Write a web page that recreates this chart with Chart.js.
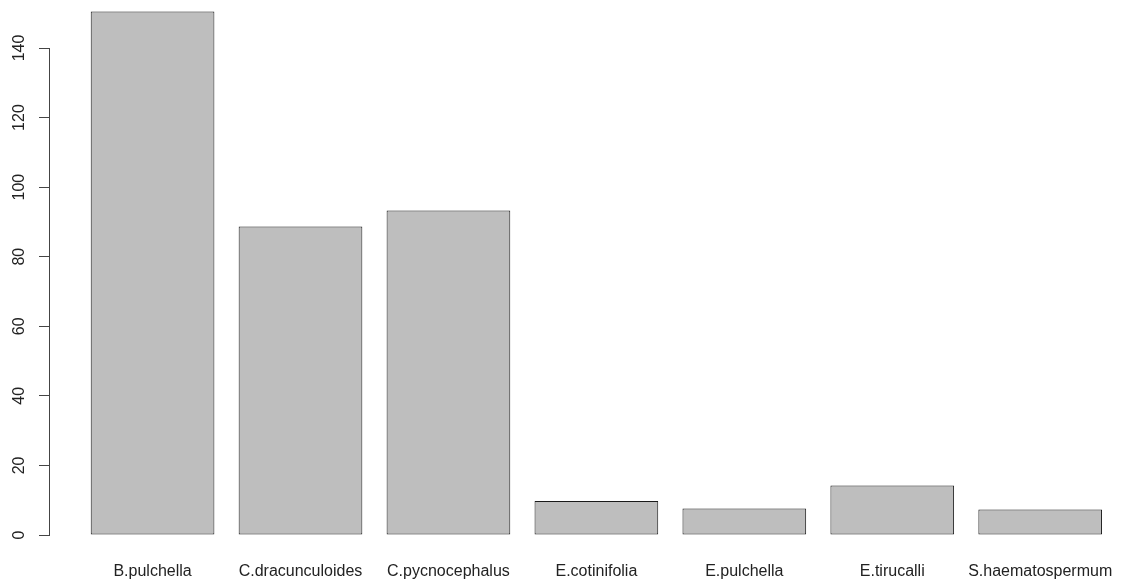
<!DOCTYPE html>
<html>
<head>
<meta charset="utf-8">
<script src="https://cdn.jsdelivr.net/npm/chart.js@4/dist/chart.umd.min.js"></script>
<style>
  html, body { margin: 0; padding: 0; background: #fff; }
  #wrap { width: 1126px; height: 587px; position: relative; }
</style>
</head>
<body>
<div id="wrap"><canvas id="graphic"></canvas></div>
<script>
const species = ['B.pulchella', 'C.dracunculoides', 'C.pycnocephalus', 'E.cotinifolia', 'E.pulchella', 'E.tirucalli', 'S.haematospermum'];
const counts = [150.5, 88.7, 93.3, 9.8, 7.6, 14.2, 7.3];
const yTicks = [0, 20, 40, 60, 80, 100, 120, 140];

const font = { family: "'Liberation Sans', Arial, sans-serif", size: 16 };
const ink = '#222';

const graphic = document.getElementById('graphic');

// bars sit at integer positions on a linear axis, one per species
const points = counts.map((v, i) => ({ x: i, y: v }));

const graphicControler = new Chart(graphic, {
  type: 'bar',
  data: {
    datasets: [
      {
        data: points,
        backgroundColor: '#bebebe',
        borderColor: '#1a1a1a',
        borderWidth: 1,
        borderSkipped: false,
        barPercentage: 1,
        categoryPercentage: 0.836,
        clip: false,
      },
    ],
  },
  options: {
    responsive: true,
    maintainAspectRatio: false,
    animation: false,
    layout: { padding: { top: 48, right: 0, bottom: 0, left: 0 } },
    plugins: {
      legend: { display: false },
      tooltip: { enabled: false },
    },
    scales: {
      x: {
        type: 'linear',
        offset: false,
        min: -0.7,
        max: 6.58,
        grid: { display: false, drawTicks: false, offset: false },
        border: { display: false },
        afterBuildTicks: (scale) => {
          scale.ticks = species.map((_, i) => ({ value: i }));
        },
        afterFit: (scale) => {
          scale.height = 52;
          // labels fit inside the plot, no extra side padding needed
          scale.paddingLeft = 0;
          scale.paddingRight = 0;
        },
        ticks: {
          autoSkip: false,
          maxRotation: 0,
          minRotation: 0,
          padding: 27,
          color: ink,
          font: font,
          callback: (v) => species[v],
        },
      },
      y: {
        min: 0,
        max: 140,
        afterBuildTicks: (scale) => {
          scale.ticks = yTicks.map((v) => ({ value: v }));
        },
        afterFit: (scale) => { scale.width = 49; },
        grid: {
          drawOnChartArea: false,
          drawTicks: true,
          tickLength: 10,
          color: '#444',
        },
        border: { display: true, color: '#444', width: 1 },
        ticks: {
          minRotation: 90,
          maxRotation: 90,
          crossAlign: 'center',
          padding: 6,
          color: ink,
          font: font,
        },
      },
    },
  },
});
</script>
</body>
</html>
